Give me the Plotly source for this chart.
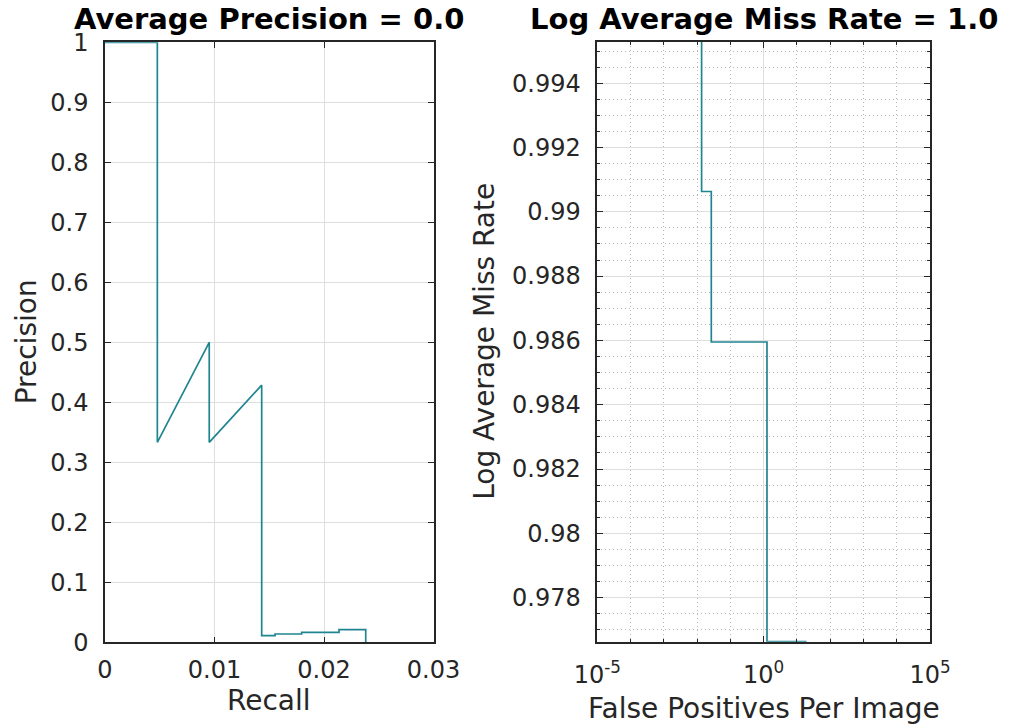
import plotly.graph_objects as go

# Precision / recall curve
recall = [0.0, 0.00478, 0.00478, 0.00952, 0.00952, 0.01431, 0.01431, 0.01553,
          0.01553, 0.01796, 0.01796, 0.02137, 0.02137, 0.02381, 0.02381]
precision = [1.0, 1.0, 0.3333, 0.5, 0.3333, 0.4286, 0.011, 0.011,
             0.0138, 0.0138, 0.0167, 0.0167, 0.021, 0.021, 0.0]

# Miss rate vs. false positives per image
fppi = [0.01365, 0.01365, 0.0267, 0.0267, 1.26, 1.26, 19.5]
miss_rate = [0.99528, 0.99063, 0.99063, 0.98595, 0.98595, 0.97663, 0.97663]

pr_xticks = [0, 0.01, 0.02, 0.03]
pr_xticktext = ["0", "0.01", "0.02", "0.03"]
pr_yticks = [0, 0.1, 0.2, 0.3, 0.4, 0.5, 0.6, 0.7, 0.8, 0.9, 1.0]
pr_yticktext = ["0", "0.1", "0.2", "0.3", "0.4", "0.5", "0.6", "0.7", "0.8", "0.9", "1"]

mr_xticks = [1e-5, 1e0, 1e5]
mr_xticktext = ["10<sup>-5</sup>", "10<sup>0</sup>", "10<sup>5</sup>"]
mr_yticks = [0.978, 0.980, 0.982, 0.984, 0.986, 0.988, 0.990, 0.992, 0.994]
mr_yticktext = ["0.978", "0.98", "0.982", "0.984", "0.986", "0.988", "0.99", "0.992", "0.994"]

ap_title = "Average Precision = 0.0"
lamr_title = "Log Average Miss Rate = 1.0"
pr_xlabel, pr_ylabel = "Recall", "Precision"
mr_xlabel, mr_ylabel = "False Positives Per Image", "Log Average Miss Rate"

W, H = 1013, 726
FONT = "DejaVu Sans"
INK = "#262626"
LINE = "#1f8590"
GRID = "#dedede"
MINOR_GRID = "#b8b8b8"

# plot-area edges in pixels
L1, R1, T1, B1 = 105, 433.5, 42.3, 642.3
L2, R2, T2, B2 = 597.3, 930, 42, 641.7


def px_x(p):
    return p / W


def px_y(p):
    return 1 - p / H


fig = go.Figure()
fig.add_trace(go.Scatter(x=recall, y=precision, mode="lines",
                         line=dict(color=LINE, width=1.7),
                         xaxis="x", yaxis="y", showlegend=False))
fig.add_trace(go.Scatter(x=fppi, y=miss_rate, mode="lines",
                         line=dict(color=LINE, width=1.7),
                         xaxis="x2", yaxis="y2", showlegend=False))

tick_font = dict(family=FONT, size=24, color=INK)
label_font = dict(family=FONT, size=28, color=INK)
title_font = dict(family=FONT, size=29, color="#000000")

common = dict(showline=True, linecolor=INK, linewidth=1.5, mirror="ticks",
              ticks="inside", ticklen=6, tickwidth=1.2, tickcolor=INK,
              showgrid=True, gridcolor=GRID, gridwidth=1, zeroline=False,
              tickfont=tick_font, automargin=False)

minor_style = dict(showgrid=True, gridcolor=MINOR_GRID, griddash="1px,3px",
                   gridwidth=1, ticks="inside", ticklen=3, tickcolor=INK)

fig.update_layout(
    width=W, height=H,
    margin=dict(l=0, r=0, t=0, b=0),
    paper_bgcolor="white", plot_bgcolor="white",
    xaxis=dict(domain=[px_x(L1), px_x(R1)], range=[0, 0.03],
               tickvals=pr_xticks, ticktext=pr_xticktext, anchor="y",
               ticklabelstandoff=5, **common),
    yaxis=dict(domain=[px_y(B1), px_y(T1)], range=[0, 1],
               tickvals=pr_yticks, ticktext=pr_yticktext, anchor="x",
               ticklabelstandoff=10, **common),
    xaxis2=dict(domain=[px_x(L2), px_x(R2)], type="log", range=[-5, 5],
                tickvals=mr_xticks, ticktext=mr_xticktext, anchor="y2",
                ticklabelstandoff=11,
                minor=dict(dtick=1, **minor_style),
                **common),
    yaxis2=dict(domain=[px_y(B2), px_y(T2)], range=[0.97663, 0.99528],
                tickvals=mr_yticks, ticktext=mr_yticktext, anchor="x2",
                ticklabelstandoff=10,
                minor=dict(dtick=0.0005, tick0=0, **minor_style),
                **common),
)

# subplot titles and axis labels
texts = [
    (f"<b>{ap_title}</b>", (L1 + R1) / 2, 19, 0, title_font),
    (f"<b>{lamr_title}</b>", (L2 + R2) / 2, 19, 0, title_font),
    (pr_xlabel, (L1 + R1) / 2, 700, 0, label_font),
    (mr_xlabel, (L2 + R2) / 2, 708, 0, label_font),
    (pr_ylabel, 26, (T1 + B1) / 2, -90, label_font),
    (mr_ylabel, 485, (T2 + B2) / 2, -90, label_font),
]
for text, x, y, angle, font in texts:
    fig.add_annotation(text=text, x=px_x(x), y=px_y(y), xref="paper", yref="paper",
                       xanchor="center", yanchor="middle", textangle=angle,
                       showarrow=False, font=font)

fig.write_html("out.html")
